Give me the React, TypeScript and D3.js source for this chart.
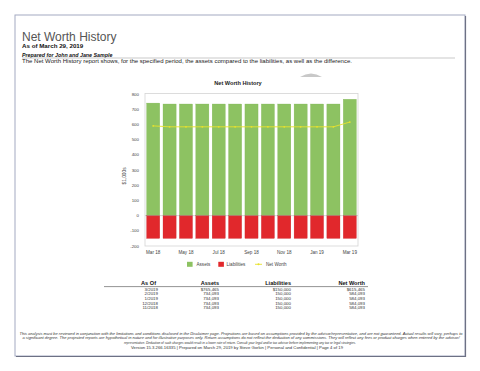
import * as d3 from 'd3'

const months = ['Mar 18', 'Apr 18', 'May 18', 'Jun 18', 'Jul 18', 'Aug 18', 'Sep 18', 'Oct 18', 'Nov 18', 'Dec 18', 'Jan 19', 'Feb 19', 'Mar 19']
// $1,000s
const assets = [740.2, 734.093, 734.093, 734.093, 734.093, 734.093, 734.093, 734.093, 734.093, 734.093, 734.093, 734.093, 765.465]
const liabilities = [150, 150, 150, 150, 150, 150, 150, 150, 150, 150, 150, 150, 150]
const netWorth = [590.2, 584.093, 584.093, 584.093, 584.093, 584.093, 584.093, 584.093, 584.093, 584.093, 584.093, 584.093, 615.465]
const yTicks = [-200, -100, 0, 100, 200, 300, 400, 500, 600, 700, 800]
const xLabelMonths = ['Mar 18', 'May 18', 'Jul 18', 'Sep 18', 'Nov 18', 'Jan 19', 'Mar 19']

const tableAsOf = ['3/2019', '2/2019', '1/2019', '12/2018', '11/2018']
const tableAssets = ['$765,465', '734,093', '734,093', '734,093', '734,093']
const tableLiabilities = ['$150,000', '150,000', '150,000', '150,000', '150,000']
const tableNetWorth = ['$615,465', '584,093', '584,093', '584,093', '584,093']

const disclaimer = [
  'This analysis must be reviewed in conjunction with the limitations and conditions disclosed in the Disclaimer page. Projections are based on assumptions provided by the advisor/representative, and are not guaranteed. Actual results will vary, perhaps to',
  'a significant degree. The projected reports are hypothetical in nature and for illustrative purposes only. Return assumptions do not reflect the deduction of any commissions. They will reflect any fees or product charges when entered by the advisor/',
  'representative. Deduction of such charges would result in a lower rate of return. Consult your legal and/or tax advisor before implementing any tax or legal strategies.',
]
const versionLine = 'Version 15.3.266.16335  |  Prepared on March 29, 2019 by Steve Gorkin  |  Personal and Confidential  |  Page 4 of 19'

const GREEN = '#8dc262'
const RED = '#e1282c'
const YELLOW = '#e8e22c'
const FONT = '"Liberation Sans", Arial, sans-serif'

const App = () => {
  const x = d3.scaleBand<string>().domain(months).range([145, 358]).paddingInner(0.2).paddingOuter(0.1)
  const y = d3.scaleLinear().domain([-200, 800]).range([246, 94])
  const line = d3
    .line<number>()
    .x((_d, i) => (x(months[i]) as number) + x.bandwidth() / 2)
    .y((d) => y(d))

  const cols = [
    { head: 'As Of', hx: 156, dx: 158, vals: tableAsOf },
    { head: 'Assets', hx: 219, dx: 219, vals: tableAssets },
    { head: 'Liabilities', hx: 291, dx: 291, vals: tableLiabilities },
    { head: 'Net Worth', hx: 365, dx: 365, vals: tableNetWorth },
  ]

  return (
    <svg width={480} height={371} style={{ position: 'fixed', left: 0, top: 0, background: '#fff' }} fontFamily={FONT}>
      <rect x={0} y={0} width={480} height={371} fill="#fff" />
      {/* page frame */}
      <rect x={15} y={15} width={450} height={341} fill="#fff" stroke="#a4aac2" strokeWidth={1} />
      <line x1={465.5} y1={16} x2={465.5} y2={357} stroke="#6d7184" strokeWidth={1.2} />
      <line x1={16} y1={356.5} x2={466} y2={356.5} stroke="#6d7184" strokeWidth={1.2} />

      {/* header */}
      <text x={22} y={40.5} fontSize={12} fill="#555">Net Worth History</text>
      <text x={22} y={48.3} fontSize={6.2} fontWeight="bold" fill="#111">As of March 29, 2019</text>
      <text x={22} y={56.6} fontSize={5.3} fontWeight="bold" fontStyle="italic" fill="#111">Prepared for John and Jane Sample</text>
      <line x1={22} y1={58} x2={455} y2={58} stroke="#bbb" strokeWidth={0.8} />
      <text x={22} y={63.4} fontSize={4.8} fill="#222" textLength={330} lengthAdjust="spacingAndGlyphs">
        The Net Worth History report shows, for the specified period, the assets compared to the liabilities, as well as the difference.
      </text>
      <path d="M300,77 Q311,70 322,77 Z" fill="#c8c8c8" />

      {/* chart title */}
      <text x={238} y={85.2} fontSize={5.6} fontWeight="bold" textAnchor="middle" fill="#222">Net Worth History</text>

      {/* plot frame */}
      <rect x={145} y={93.5} width={213} height={152.5} fill="none" stroke="#d4d4d4" strokeWidth={0.8} />

      {/* y axis */}
      {yTicks.map((t) => (
        <text key={t} x={139} y={y(t) + 1.6} fontSize={4.4} textAnchor="end" fill="#444">{t}</text>
      ))}
      <text transform="translate(126,176) rotate(-90)" fontSize={4.8} textAnchor="middle" fill="#444">$1,000s</text>

      {/* bars */}
      {months.map((m, i) => (
        <g key={m}>
          <rect x={x(m)} y={y(assets[i])} width={x.bandwidth()} height={y(0) - y(assets[i])} fill={GREEN} stroke="#7fb455" strokeWidth={0.3} />
          <rect x={x(m)} y={y(0)} width={x.bandwidth()} height={y(-liabilities[i]) - y(0)} fill={RED} stroke="#c92025" strokeWidth={0.3} />
        </g>
      ))}
      <line x1={145} x2={358} y1={y(0)} y2={y(0)} stroke="#999" strokeWidth={0.4} />

      {/* net worth line */}
      <path d={line(netWorth) ?? undefined} fill="none" stroke={YELLOW} strokeWidth={0.9} />
      {netWorth.map((v, i) => (
        <circle key={i} cx={(x(months[i]) as number) + x.bandwidth() / 2} cy={y(v)} r={0.9} fill={YELLOW} />
      ))}

      {/* x labels */}
      {xLabelMonths.map((m) => (
        <text key={m} x={(x(m) as number) + x.bandwidth() / 2} y={253.8} fontSize={4.6} textAnchor="middle" fill="#444">{m}</text>
      ))}

      {/* legend */}
      <rect x={187} y={261.8} width={5.6} height={5} fill={GREEN} />
      <text x={196.5} y={266.3} fontSize={4.6} fill="#444">Assets</text>
      <rect x={218.3} y={261.8} width={5.6} height={5} fill={RED} />
      <text x={226.5} y={266.3} fontSize={4.6} fill="#444">Liabilities</text>
      <line x1={255} x2={262} y1={264.3} y2={264.3} stroke={YELLOW} strokeWidth={0.9} />
      <circle cx={258.5} cy={264.3} r={1} fill={YELLOW} />
      <text x={266} y={266.3} fontSize={4.6} fill="#444">Net Worth</text>

      {/* table */}
      {cols.map((c) => (
        <g key={c.head}>
          <text x={c.hx} y={285.2} fontSize={5.6} fontWeight="bold" textAnchor="end" fill="#111">{c.head}</text>
          {c.vals.map((v, r) => (
            <text key={r} x={c.dx} y={290.8 + r * 4.65} fontSize={4.4} textAnchor="end" fill="#333">{v}</text>
          ))}
        </g>
      ))}
      <line x1={104} x2={368} y1={286.6} y2={286.6} stroke="#888" strokeWidth={0.9} />

      {/* footer */}
      <text x={241} y={335.3} fontSize={3.4} fontStyle="italic" textAnchor="middle" fill="#333" textLength={443} lengthAdjust="spacingAndGlyphs">{disclaimer[0]}</text>
      <text x={241} y={339.4} fontSize={3.4} fontStyle="italic" textAnchor="middle" fill="#333" textLength={437} lengthAdjust="spacingAndGlyphs">{disclaimer[1]}</text>
      <text x={240} y={343.5} fontSize={3.4} fontStyle="italic" textAnchor="middle" fill="#333" textLength={232} lengthAdjust="spacingAndGlyphs">{disclaimer[2]}</text>
      <text x={237} y={349.4} fontSize={3.4} textAnchor="middle" fill="#333" textLength={212} lengthAdjust="spacingAndGlyphs">{versionLine}</text>
    </svg>
  )
}

export default App
